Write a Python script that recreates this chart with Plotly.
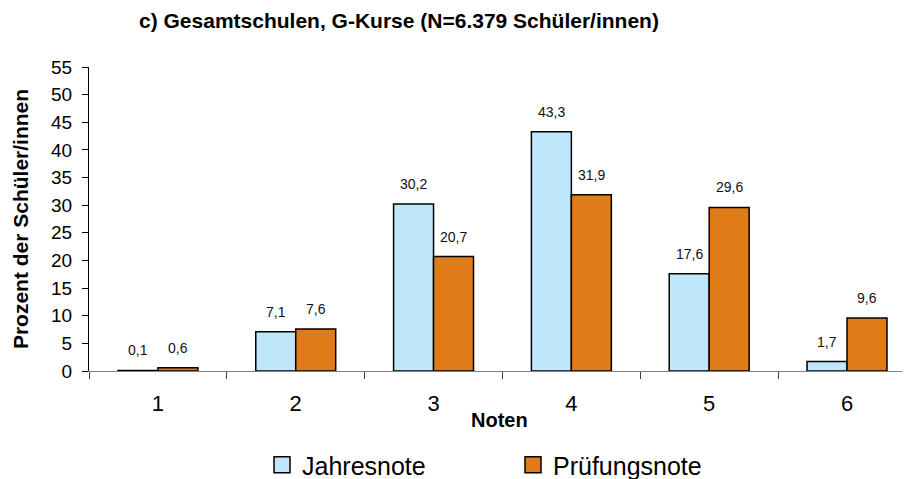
import plotly.graph_objects as go

categories = ["1", "2", "3", "4", "5", "6"]
jahresnote = [0.1, 7.1, 30.2, 43.3, 17.6, 1.7]
pruefungsnote = [0.6, 7.6, 20.7, 31.9, 29.6, 9.6]
series_names = ["Jahresnote", "Prüfungsnote"]
colors = ["#BFE6FB", "#E07B19"]
title_text = "c) Gesamtschulen, G-Kurse (N=6.379 Schüler/innen)"
y_title = "Prozent der Schüler/innen"
x_title = "Noten"
y_ticks = list(range(0, 60, 5))

FONT = "Liberation Sans, Arial, sans-serif"
W, H = 910, 479
OFF = 8  # page body margin offset
PLOT_TOP, PLOT_BOTTOM = 67 - OFF, 371 - OFF
bargap = 0.42
bar_w = (1 - bargap) / 2

def fmt(v):
    return f"{v:.1f}".replace(".", ",")

fig = go.Figure()
for name, vals, col in zip(series_names, [jahresnote, pruefungsnote], colors):
    fig.add_trace(go.Bar(
        x=categories, y=vals, name=name, showlegend=False,
        marker=dict(color=col, line=dict(color="black", width=1.5)),
        hoverinfo="x+y",
    ))
    # legend proxies
    fig.add_trace(go.Scatter(
        x=[None], y=[None], mode="markers", name=name,
        marker=dict(symbol="square", size=16, color=col, line=dict(color="black", width=1.5)),
    ))

annotations = []
for k, vals in enumerate([jahresnote, pruefungsnote]):
    off = (k - 0.5) * bar_w
    for i, v in enumerate(vals):
        annotations.append(dict(
            x=i + off, y=v, xref="x", yref="y", text=fmt(v), showarrow=False,
            yanchor="bottom", yshift=10, font=dict(family=FONT, size=14, color="#111111"),
        ))
annotations.append(dict(
    text=x_title, x=0.5, xref="paper", xanchor="center",
    y=(PLOT_BOTTOM - (420 - OFF)) / (PLOT_BOTTOM - PLOT_TOP), yref="paper", yanchor="middle",
    showarrow=False,
    font=dict(family=FONT, size=20, color="black", weight="bold"),
))

fig.update_layout(
    width=W, height=H,
    margin=dict(l=89 - OFF, r=OFF, t=PLOT_TOP, b=H - PLOT_BOTTOM),
    paper_bgcolor="white", plot_bgcolor="white",
    barmode="group", bargap=bargap, bargroupgap=0,
    font=dict(family=FONT, color="black"),
    title=dict(text=title_text, x=(399 - OFF) / W, xanchor="center", xref="container",
               y=1 - (21 - OFF) / H, yanchor="middle", yref="container",
               font=dict(family=FONT, size=21, color="black", weight="bold")),
    annotations=annotations,
    showlegend=True,
    legend=dict(orientation="h", xref="container", yref="container",
                x=(262 - OFF) / W, xanchor="left", y=1 - (465 - OFF) / H, yanchor="middle",
                font=dict(family=FONT, size=25, color="black"),
                entrywidth=206, entrywidthmode="pixels", itemclick=False),
)
fig.update_xaxes(
    type="category", range=[-0.5, 5.457], automargin=False,
    showline=True, linecolor="#808080", linewidth=1,
    ticks="outside", tickson="boundaries", ticklen=7, tickcolor="#404040",
    tickfont=dict(family=FONT, size=22, color="black"),
    ticklabelstandoff=13,
    showgrid=False, zeroline=False,
)
fig.update_yaxes(
    range=[0, 55], tickvals=y_ticks, automargin=False,
    showline=True, linecolor="black", linewidth=1,
    ticks="outside", ticklen=6, tickcolor="black",
    tickfont=dict(family=FONT, size=19, color="black"),
    ticklabelstandoff=6,
    showgrid=False, zeroline=False,
    title=dict(text=y_title, standoff=16, font=dict(family=FONT, size=21, color="black", weight="bold")),
)

fig.write_html("out.html")
